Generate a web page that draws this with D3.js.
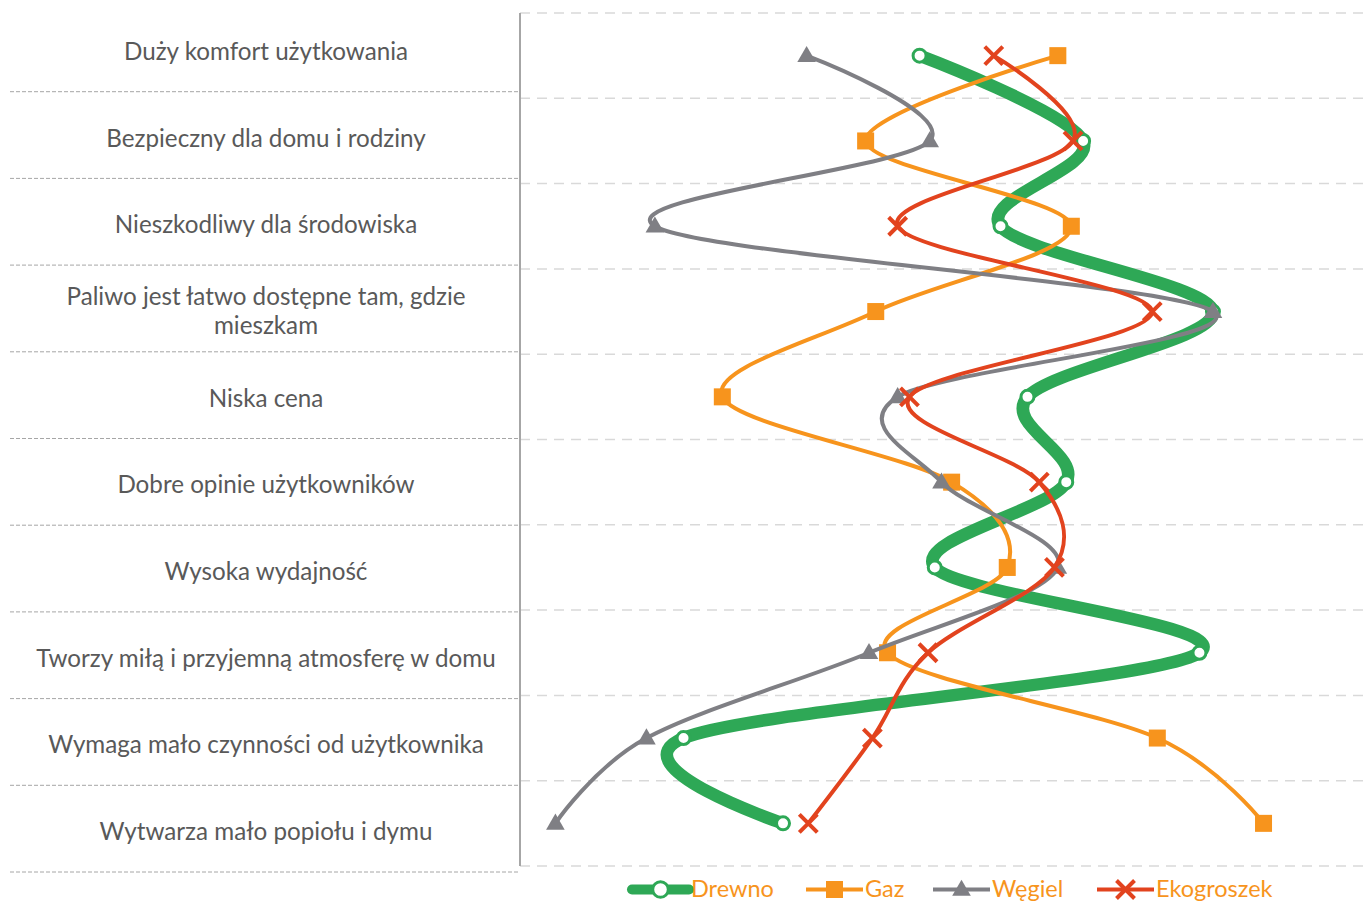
<!DOCTYPE html>
<html><head><meta charset="utf-8">
<script src="https://cdn.jsdelivr.net/npm/d3@7"></script>
<style>body{margin:0;background:#fff;} svg{display:block;}</style>
</head><body>
<svg id="c" width="1363" height="903"></svg>
<script>
const categories = [
  "Duży komfort użytkowania",
  "Bezpieczny dla domu i rodziny",
  "Nieszkodliwy dla środowiska",
  "Paliwo jest łatwo dostępne tam, gdzie mieszkam",
  "Niska cena",
  "Dobre opinie użytkowników",
  "Wysoka wydajność",
  "Tworzy miłą i przyjemną atmosferę w domu",
  "Wymaga mało czynności od użytkownika",
  "Wytwarza mało popiołu i dymu"
];
const seriesNames = ["Drewno", "Gaz", "Węgiel", "Ekogroszek"];
const drewno     = [23.7, 33.4, 28.5, 41.1, 30.1, 32.4, 24.6, 40.3, 9.7, 15.6];
const gaz        = [31.9, 20.5, 32.7, 21.1, 12.0, 25.6, 28.9, 21.8, 37.8, 44.1];
const wegiel     = [17.0, 24.3, 8.0, 41.1, 22.4, 25.0, 31.9, 20.7, 7.5, 2.1];
const ekogroszek = [28.1, 32.8, 22.4, 37.5, 23.1, 30.8, 31.7, 24.2, 20.9, 17.1];
const xDomain = [0, 50];

const svg = d3.select("#c");
const font = "Lato, 'Open Sans', sans-serif";
const plot = {x0: 520, x1: 1363, y0: 13, y1: 866};
const labelArea = {x0: 10, x1: 520, y0: 5, y1: 872};

const x = d3.scaleLinear().domain(xDomain).range([plot.x0, plot.x1]);
const y = d3.scaleBand().domain(categories).range([plot.y0, plot.y1]);
const yl = d3.scaleBand().domain(categories).range([labelArea.y0, labelArea.y1]);

// right gridlines
const gridYs = categories.map(c => y(c)).concat([plot.y1]);
svg.append("g").selectAll("line").data(gridYs).join("line")
  .attr("x1", plot.x0).attr("x2", plot.x1)
  .attr("y1", d => d).attr("y2", d => d)
  .attr("stroke", "#d9d9d9").attr("stroke-width", 1.5).attr("stroke-dasharray", "10,7");

// left separators
const sepYs = categories.map(c => yl(c) + yl.bandwidth());
svg.append("g").selectAll("line").data(sepYs).join("line")
  .attr("x1", labelArea.x0).attr("x2", labelArea.x1)
  .attr("y1", d => d).attr("y2", d => d)
  .attr("stroke", "#a6a6a6").attr("stroke-width", 1).attr("stroke-dasharray", "4,2");

// axis vertical line
svg.append("line").attr("x1", plot.x0).attr("x2", plot.x0).attr("y1", plot.y0).attr("y2", plot.y1)
  .attr("stroke", "#a6a6a6").attr("stroke-width", 2);

// labels with wrapping
const labelG = svg.append("g");
categories.forEach(c => {
  const cx = 266, cy = yl(c) + yl.bandwidth() / 2 + 3;
  const t = labelG.append("text").attr("x", cx).attr("text-anchor", "middle")
    .attr("font-family", font).attr("font-size", 24.2).attr("fill", "#595959");
  let lines = [c];
  if (c.length > 42) {
    const idx = c.lastIndexOf(" ");
    lines = [c.slice(0, idx), c.slice(idx + 1)];
  }
  const lh = 29;
  lines.forEach((ln, i) => {
    t.append("tspan").attr("x", cx)
      .attr("y", cy + (i - (lines.length - 1) / 2) * lh)
      .attr("dy", "0.35em").text(ln);
  });
});

const colors = {Drewno: "#2ea856", Gaz: "#f7941d", "Węgiel": "#7f7f84", Ekogroszek: "#e2431e"};
const widths = {Drewno: 12.5, Gaz: 4, "Węgiel": 4, Ekogroszek: 4};
const dataSets = {Drewno: drewno, Gaz: gaz, "Węgiel": wegiel, Ekogroszek: ekogroszek};

const line = d3.line().curve(d3.curveCatmullRom.alpha(0))
  .x(d => x(d.v)).y(d => y(d.c) + y.bandwidth() / 2);

function drawMarker(g, name, px, py, scale) {
  const col = colors[name];
  scale = scale || 1;
  if (name === "Drewno") {
    g.append("circle").attr("cx", px).attr("cy", py).attr("r", 6.5 * scale)
      .attr("fill", "#fff").attr("stroke", col).attr("stroke-width", 3);
  } else if (name === "Gaz") {
    const s = 17 * scale;
    g.append("rect").attr("x", px - s / 2).attr("y", py - s / 2).attr("width", s).attr("height", s)
      .attr("fill", col);
  } else if (name === "Węgiel") {
    g.append("path").attr("d", d3.symbol().type(d3.symbolTriangle).size(150 * scale * scale)())
      .attr("transform", `translate(${px},${py + 1})`).attr("fill", col);
  } else {
    const s = 9 * scale;
    g.append("path").attr("d", `M${px - s},${py - s}L${px + s},${py + s}M${px - s},${py + s}L${px + s},${py - s}`)
      .attr("stroke", col).attr("stroke-width", 4).attr("fill", "none");
  }
}

// draw order: Drewno first (bottom), then Gaz, Węgiel, Ekogroszek
seriesNames.forEach(name => {
  const pts = dataSets[name].map((v, i) => ({v, c: categories[i]}));
  const g = svg.append("g");
  g.append("path").attr("d", line(pts)).attr("fill", "none")
    .attr("stroke", colors[name]).attr("stroke-width", widths[name])
    .attr("stroke-linecap", "round");
  pts.forEach(p => drawMarker(g, name, x(p.v), y(p.c) + y.bandwidth() / 2));
});

// legend
const legendItems = [
  {name: "Drewno", x0: 632},
  {name: "Gaz", x0: 806},
  {name: "Węgiel", x0: 933},
  {name: "Ekogroszek", x0: 1097}
];
const ly = 889.5;
legendItems.forEach(it => {
  const g = svg.append("g");
  g.append("line").attr("x1", it.x0).attr("x2", it.x0 + 57).attr("y1", ly).attr("y2", ly)
    .attr("stroke", colors[it.name]).attr("stroke-width", it.name === "Drewno" ? 10 : 4)
    .attr("stroke-linecap", it.name === "Drewno" ? "round" : "butt");
  drawMarker(g, it.name, it.x0 + 28.5, ly, it.name === "Drewno" ? 1.2 : 1);
  g.append("text").attr("x", it.x0 + 59).attr("y", ly).attr("dy", "0.33em")
    .attr("font-family", font).attr("font-size", 23.5).attr("fill", "#f7941d").text(it.name);
});
</script>
</body></html>
